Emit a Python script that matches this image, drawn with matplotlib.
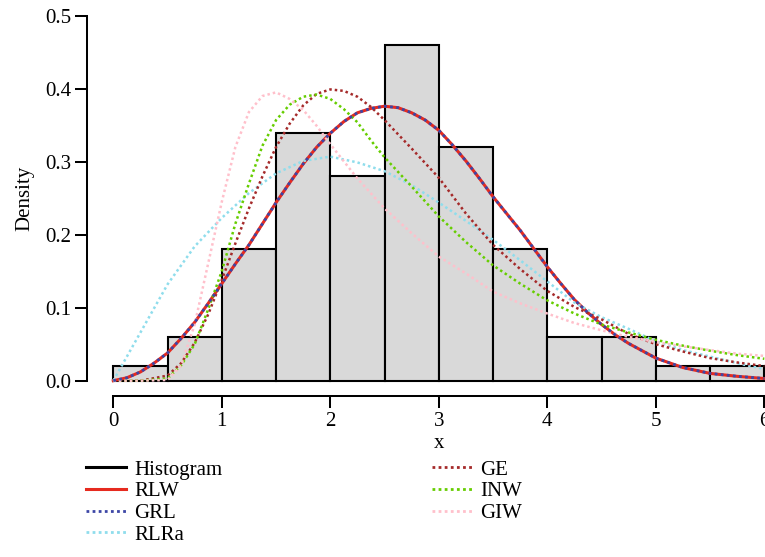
#!/usr/bin/env python3
"""Histogram of x with fitted densities (RLW, GRL, RLRa, GE, INW, GIW)."""

import matplotlib
matplotlib.use("Agg")
import matplotlib.pyplot as plt
import numpy as np
from matplotlib.lines import Line2D

# histogram (density scale, bin width 0.5)
bin_edges = [0, 0.5, 1, 1.5, 2, 2.5, 3, 3.5, 4, 4.5, 5, 5.5, 6]
hist_density = [0.02, 0.06, 0.18, 0.34, 0.28, 0.46, 0.32, 0.18, 0.06, 0.06, 0.02, 0.02]

# fitted densities
x_rlw = [0, 0.125, 0.25, 0.375, 0.5, 0.625, 0.75, 0.875, 1.0, 1.125, 1.25, 1.375, 1.5, 1.625,
         1.75, 1.875, 2.0, 2.125, 2.25, 2.375, 2.5, 2.625, 2.75, 2.875, 3.0, 3.125, 3.25, 3.375,
         3.5, 3.625, 3.75, 3.875, 4.0, 4.125, 4.25, 4.375, 4.5, 4.625, 4.75, 5.0, 5.25, 5.5,
         5.75, 6.0]
rlw = [0.0, 0.004, 0.012, 0.024, 0.038, 0.058, 0.080, 0.106, 0.133, 0.160, 0.186, 0.215, 0.244, 0.271,
       0.297, 0.320, 0.339, 0.355, 0.367, 0.373, 0.376, 0.374, 0.367, 0.357, 0.343, 0.323, 0.301, 0.277,
       0.252, 0.229, 0.206, 0.181, 0.156, 0.133, 0.111, 0.093, 0.077, 0.063, 0.051, 0.031, 0.018, 0.010,
       0.006, 0.003]
grl = [0.0, 0.004, 0.012, 0.024, 0.038, 0.058, 0.080, 0.106, 0.133, 0.160, 0.186, 0.215, 0.244, 0.271,
       0.297, 0.320, 0.339, 0.355, 0.367, 0.373, 0.376, 0.374, 0.367, 0.357, 0.343, 0.323, 0.301, 0.277,
       0.252, 0.229, 0.206, 0.181, 0.156, 0.133, 0.111, 0.093, 0.077, 0.063, 0.051, 0.031, 0.018, 0.010,
       0.006, 0.003]

x_coarse = [0, 0.25, 0.5, 0.75, 1.0, 1.25, 1.5, 1.75, 2.0, 2.25, 2.5, 2.75, 3.0,
            3.25, 3.5, 3.75, 4.0, 4.25, 4.5, 4.75, 5.0, 5.25, 5.5, 5.75, 6.0]
rlra = [0.0, 0.066, 0.132, 0.184, 0.223, 0.257, 0.284, 0.301, 0.307, 0.299, 0.287, 0.268, 0.244,
        0.219, 0.193, 0.165, 0.136, 0.107, 0.087, 0.071, 0.054, 0.042, 0.033, 0.024, 0.016]

x_fine = [0, 0.25, 0.5, 0.625, 0.75, 0.875, 1.0, 1.125, 1.25, 1.375, 1.5, 1.625, 1.75, 1.875,
          2.0, 2.125, 2.25, 2.375, 2.5, 2.75, 3.0, 3.25, 3.5, 3.75, 4.0, 4.25, 4.5, 4.75,
          5.0, 5.25, 5.5, 5.75, 6.0]
ge = [0.0, 0.0, 0.007, 0.024, 0.052, 0.091, 0.138, 0.188, 0.236, 0.280, 0.320, 0.352, 0.377, 0.393,
      0.399, 0.397, 0.389, 0.375, 0.357, 0.318, 0.278, 0.229, 0.186, 0.153, 0.123, 0.101, 0.084, 0.064,
      0.050, 0.040, 0.031, 0.025, 0.020]
inw = [0.0, 0.0, 0.003, 0.021, 0.050, 0.098, 0.150, 0.215, 0.270, 0.322, 0.357, 0.378, 0.389, 0.392,
       0.386, 0.372, 0.354, 0.329, 0.306, 0.266, 0.225, 0.190, 0.158, 0.133, 0.110, 0.092, 0.077, 0.066,
       0.056, 0.048, 0.041, 0.035, 0.030]

x_giw = [0, 0.25, 0.5, 0.625, 0.75, 0.875, 1.0, 1.125, 1.25, 1.375, 1.5, 1.625, 1.75, 1.875,
         2.0, 2.25, 2.5, 2.75, 3.0, 3.25, 3.5, 3.75, 4.0, 4.25, 4.5, 4.75, 5.0, 5.25, 5.5, 5.75, 6.0]
giw = [0.0, 0.0, 0.001, 0.021, 0.077, 0.161, 0.245, 0.320, 0.368, 0.390, 0.395, 0.386, 0.371, 0.349,
       0.324, 0.277, 0.236, 0.202, 0.170, 0.147, 0.122, 0.106, 0.092, 0.079, 0.069, 0.060, 0.053, 0.047,
       0.042, 0.037, 0.034]

plt.rcParams["font.family"] = "Liberation Serif"
plt.rcParams["font.size"] = 15

W, H = 765, 557
fig = plt.figure(figsize=(W / 100, H / 100), dpi=100)
ax = fig.add_axes([113.3 / W, (H - 380.7) / H, 651 / W, 365 / H])
ax.set_xlim(0, 6)
ax.set_ylim(0, 0.5)

ax.bar(bin_edges[:-1], hist_density, width=np.diff(bin_edges), align="edge",
       color="#D9D9D9", edgecolor="black", linewidth=1.5, zorder=1, clip_on=False)

dot = (0, (1, 1.2))
ax.plot(x_rlw, rlw, color="#E62A1F", lw=2.2, zorder=3, clip_on=False)
ax.plot(x_rlw, grl, color="#3C46A6", lw=2.0, ls=dot, zorder=4, clip_on=False)
ax.plot(x_coarse, rlra, color="#8FDDEC", lw=1.8, ls=dot, zorder=3, clip_on=False)
ax.plot(x_fine, ge, color="#A52A2A", lw=1.8, ls=dot, zorder=3, clip_on=False)
ax.plot(x_fine, inw, color="#66CD00", lw=1.8, ls=dot, zorder=3, clip_on=False)
ax.plot(x_giw, giw, color="#FFC0CB", lw=1.8, ls=dot, zorder=3, clip_on=False)

# R-style detached axes
for s in ["top", "right"]:
    ax.spines[s].set_visible(False)
ax.spines["left"].set_position(("outward", 18.7))
ax.spines["bottom"].set_position(("outward", 10.8))
ax.spines["left"].set_bounds(0, 0.5)
ax.spines["bottom"].set_bounds(0, 6)
for s in ["left", "bottom"]:
    ax.spines[s].set_linewidth(1.45)

ax.set_xticks(range(7))
ax.set_yticks([0, 0.1, 0.2, 0.3, 0.4, 0.5])
ax.set_yticklabels(["0.0", "0.1", "0.2", "0.3", "0.4", "0.5"])
ax.tick_params(length=8.6, width=1.45, pad=3, labelsize=15)
ax.set_xlabel("x", labelpad=2)
ax.set_ylabel("Density", labelpad=8)

handles = [
    Line2D([], [], color="black", lw=2.2),
    Line2D([], [], color="#E62A1F", lw=2.2),
    Line2D([], [], color="#3C46A6", lw=2.0, ls=dot),
    Line2D([], [], color="#8FDDEC", lw=2.0, ls=dot),
    Line2D([], [], color="#A52A2A", lw=2.0, ls=dot),
    Line2D([], [], color="#66CD00", lw=2.0, ls=dot),
    Line2D([], [], color="#FFC0CB", lw=2.0, ls=dot),
]
labels = ["Histogram", "RLW", "GRL", "RLRa", "GE", "INW", "GIW"]
fig.legend(handles, labels, ncol=2, loc="upper left",
           bbox_to_anchor=(86 / W, 1 - 460 / H), frameon=False,
           handlelength=1.9, handletextpad=0.4, labelspacing=0.1,
           columnspacing=10.1, borderpad=0, borderaxespad=0, fontsize=15)

fig.savefig("out.png", dpi=100)
plt.close(fig)
